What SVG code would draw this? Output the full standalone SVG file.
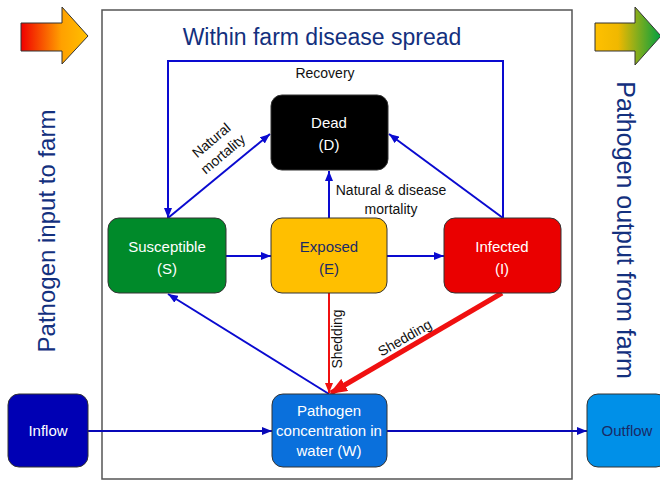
<svg xmlns="http://www.w3.org/2000/svg" width="660" height="481" viewBox="0 0 660 481">
<style>
text{font-family:"Liberation Sans",Arial,sans-serif}
.node{stroke:#333;stroke-width:1}
.wt{fill:#fff;font-size:15px;text-anchor:middle}
.nt{fill:#1a2a66;font-size:15px;text-anchor:middle}
.lbl{fill:#111;font-size:14px;text-anchor:middle}
.blue{stroke:#0a0ad0;stroke-width:2;fill:none}
.dblue{stroke:#0808b8;stroke-width:2;fill:none}
.navy{fill:#13307e}
</style>
<defs>
<marker id="ab" markerUnits="userSpaceOnUse" markerWidth="10" markerHeight="8" refX="10" refY="4" orient="auto"><path d="M0,0 L10,4 L0,8 z" fill="#0a0ad0"/></marker>
<marker id="adb" markerUnits="userSpaceOnUse" markerWidth="10" markerHeight="8" refX="10" refY="4" orient="auto"><path d="M0,0 L10,4 L0,8 z" fill="#0808b8"/></marker>
<marker id="ar" markerUnits="userSpaceOnUse" markerWidth="10" markerHeight="8" refX="10" refY="4" orient="auto"><path d="M0,0 L10,4 L0,8 z" fill="#f01010"/></marker>
<marker id="arl" markerUnits="userSpaceOnUse" markerWidth="18" markerHeight="14" refX="16" refY="7" orient="auto"><path d="M0,0 L18,7 L0,14 z" fill="#f01010"/></marker>
<linearGradient id="gl" x1="0" y1="0" x2="1" y2="0"><stop offset="0" stop-color="#f00000"/><stop offset="0.6" stop-color="#ffa000"/><stop offset="1" stop-color="#ffc000"/></linearGradient>
<linearGradient id="gr" x1="0" y1="0" x2="1" y2="0"><stop offset="0" stop-color="#ffc000"/><stop offset="0.35" stop-color="#f0b800"/><stop offset="1" stop-color="#00a040"/></linearGradient>
</defs>
<rect width="660" height="481" fill="#fff"/>
<rect x="102" y="10" width="470" height="469" fill="none" stroke="#555" stroke-width="1.5"/>
<g id="arrow-in"><path d="M21,23 H62 V7 L88,36 L62,64 V51 H21 Z" fill="url(#gl)" stroke="#333" stroke-width="1"/></g>
<g id="arrow-out"><path d="M595,23 H635 V7 L661,36 L635,65 V51 H595 Z" fill="url(#gr)" stroke="#333" stroke-width="1"/></g>
<text class="navy" x="322" y="45" font-size="23" text-anchor="middle">Within farm disease spread</text>
<text class="navy" transform="translate(55,231) rotate(-90)" font-size="24" text-anchor="middle">Pathogen input to farm</text>
<text class="navy" transform="translate(617,230) rotate(90)" font-size="25" text-anchor="middle">Pathogen output from farm</text>
<g id="connectors">
<path class="blue" d="M503,218 V61 H168 V218" marker-end="url(#ab)"/>
<path class="blue" d="M168,218 L270,134" marker-end="url(#ab)"/>
<path class="blue" d="M503,218 L389,134" marker-end="url(#ab)"/>
<path class="blue" d="M329,218 V171" marker-end="url(#ab)"/>
<path class="blue" d="M226,256 H271" marker-end="url(#ab)"/>
<path class="blue" d="M387,256 H444" marker-end="url(#ab)"/>
<path class="blue" d="M329,394 L168,294" marker-end="url(#ab)"/>
<path d="M329,293 V393" stroke="#f01010" stroke-width="2" fill="none" marker-end="url(#ar)"/>
<path d="M502,293 L331,393" stroke="#f01010" stroke-width="5" fill="none" marker-end="url(#arl)"/>
<path class="dblue" d="M88,431 H272" marker-end="url(#adb)"/>
<path class="dblue" d="M387,431 H587" marker-end="url(#adb)"/>
<text class="lbl" x="325" y="78">Recovery</text>
<g transform="translate(217,147) rotate(-40)"><text class="lbl" x="0" y="-4">Natural</text><text class="lbl" x="0" y="14">mortality</text></g>
<text class="lbl" x="391" y="195">Natural  &amp; disease</text>
<text class="lbl" x="391" y="214">mortality</text>
<text class="lbl" font-size="13" transform="translate(342,339) rotate(-90)">Shedding</text>
<text class="lbl" transform="translate(407,342) rotate(-30)">Shedding</text>
</g>
<g id="dead"><rect class="node" x="271" y="95" width="117" height="75" rx="11" fill="#000"/><text class="wt" x="329" y="128">Dead</text><text class="wt" x="329" y="150">(D)</text></g>
<g id="susceptible"><rect class="node" x="108" y="218" width="118" height="75" rx="11" fill="#008a2a"/><text class="wt" x="167" y="252">Susceptible</text><text class="wt" x="167" y="274">(S)</text></g>
<g id="exposed"><rect class="node" x="271" y="218" width="116" height="75" rx="11" fill="#ffbf00"/><text class="nt" x="329" y="252">Exposed</text><text class="nt" x="329" y="274">(E)</text></g>
<g id="infected"><rect class="node" x="444" y="218" width="117" height="75" rx="11" fill="#ea0000"/><text class="wt" x="502" y="252">Infected</text><text class="wt" x="502" y="274">(I)</text></g>
<g id="water"><rect class="node" x="272" y="394" width="115" height="73" rx="11" fill="#0a70dc"/><text class="wt" font-size="13" x="329" y="416">Pathogen</text><text class="wt" font-size="13" x="329" y="436">concentration in</text><text class="wt" font-size="13" x="329" y="456">water (W)</text></g>
<g id="inflow"><rect class="node" x="8" y="394" width="80" height="73" rx="11" fill="#0000b4"/><text class="wt" x="48" y="436">Inflow</text></g>
<g id="outflow"><rect class="node" x="587" y="394" width="80" height="73" rx="11" fill="#0090e8"/><text class="nt" x="627" y="436">Outflow</text></g>
</svg>
